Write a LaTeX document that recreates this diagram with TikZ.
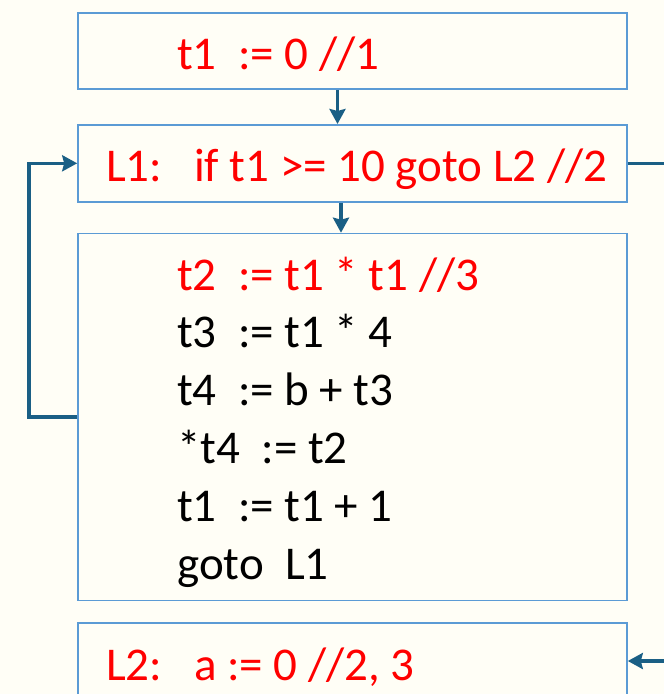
\documentclass[tikz,border=0pt]{standalone}
\usepackage{fontspec}
\setmainfont{Carlito}
\usetikzlibrary{arrows.meta}
\definecolor{paper}{HTML}{FFFEF6}
\definecolor{boxline}{HTML}{5B9BD5}
\definecolor{flowline}{HTML}{1A5F85}
\definecolor{hot}{HTML}{FF0000}
\begin{document}
\begin{tikzpicture}[x=1pt, y=-1pt,
    blk/.style={draw=boxline, line width=1.6pt, minimum width=549pt, inner sep=0pt},
    code/.style={anchor=base west, inner sep=0pt, font=\fontsize{47}{58}\selectfont},
    flow/.style={draw=flowline, line width=3.5pt, -{Stealth[length=15pt, width=16pt, inset=2pt]}}]
    \pgfmathsetmacro{\xc}{352.5}
    \pgfmathsetmacro{\xin}{177}
    \pgfmathsetmacro{\xlab}{106}
    \pgfmathsetmacro{\dl}{57.9}
    \useasboundingbox[fill=paper] (0, 0) rectangle (664, 694);
    \clip (0, 0) rectangle (664, 694);
    % the four blocks
    \node[blk, minimum height=76pt] (b1) at (\xc, 51) {};
    \node[blk, minimum height=77pt] (b2) at (\xc, 163.3) {};
    \node[blk, minimum height=367pt] (b3) at (\xc, 417) {};
    \node[blk, minimum height=120pt] (b4) at (\xc, 683) {};
    % code lines
    \node[code, text=hot] (c1) at (\xin, 69) {t1\ \ := 0 //1};
    \node[code, text=hot] (c2) at (\xlab, 181.5) {L1:\ \ \ if t1 >= 10 goto L2 //2};
    \node[code, text=hot] (c3) at (\xin, 290) {t2\ \ := t1 * t1 //3};
    \node[code] (c4) at (\xin, 290+\dl) {t3\ \ := t1 * 4};
    \node[code] (c5) at (\xin, 290+2*\dl) {t4\ \ := b + t3};
    \node[code] (c6) at (\xin, 290+3*\dl) {*t4\ \ := t2};
    \node[code] (c7) at (\xin, 290+4*\dl) {t1\ \ := t1 + 1};
    \node[code] (c8) at (\xin, 290+5*\dl) {goto\ \ L1};
    \node[code, text=hot] (c9) at (\xlab, 680) {L2:\ \ \ a := 0 //2, 3};
    % control flow
    \coordinate (out2) at (670, 163.3);
    \coordinate (in4) at (670, 661);
    \draw[flow] ([xshift=-15pt]b1.south) -- ([xshift=-15pt]b1.south |- b2.north);
    \draw[flow] ([xshift=-11.5pt]b2.south) -- ([xshift=-11.5pt]b2.south |- b3.north);
    \draw[flow] (b3.west) -- ++(-48, 0) |- (b2.west);
    \draw[flow, -] (b2.east) -- (out2);
    \draw[flow] (in4) -- (in4 -| b4.east);
\end{tikzpicture}
\end{document}
